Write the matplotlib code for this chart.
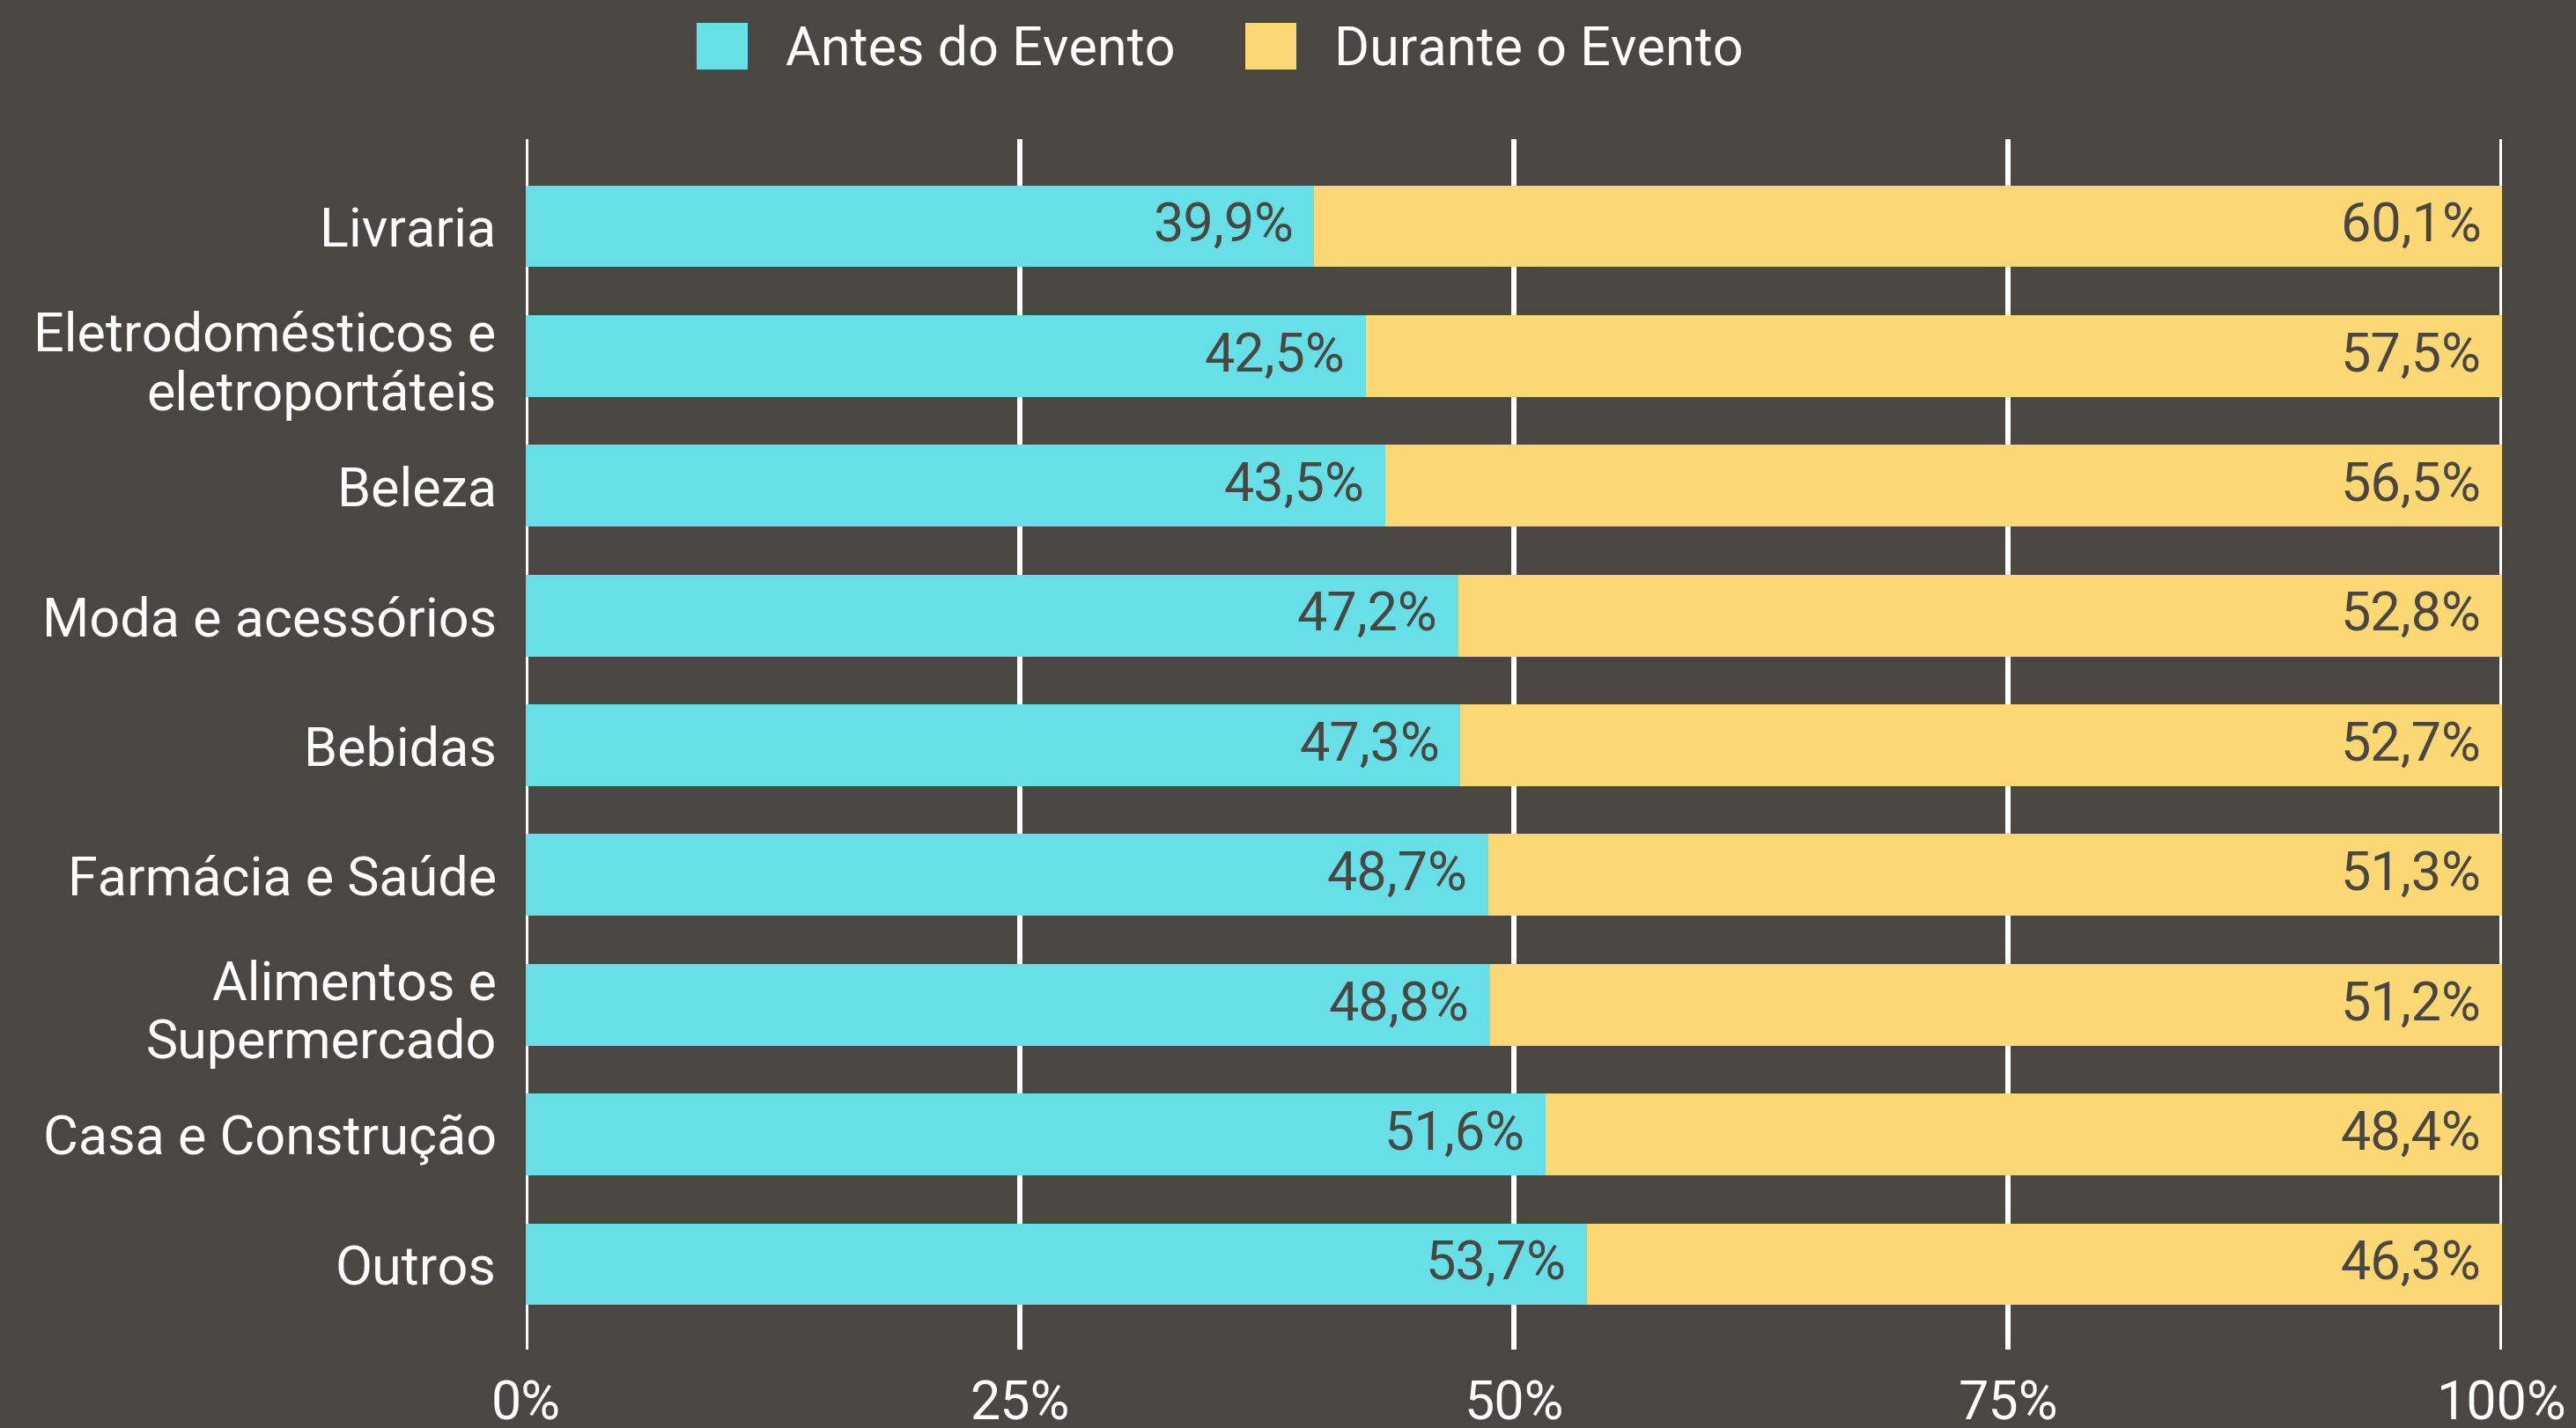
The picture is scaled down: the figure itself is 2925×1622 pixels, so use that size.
import matplotlib
matplotlib.use("Agg")
import matplotlib.pyplot as plt
from matplotlib.patches import Patch
import numpy as np

categories = ["Livraria", "Eletrodomésticos e\neletroportáteis", "Beleza",
              "Moda e acessórios", "Bebidas", "Farmácia e Saúde",
              "Alimentos e\nSupermercado", "Casa e Construção", "Outros"]
antes = [39.9, 42.5, 43.5, 47.2, 47.3, 48.7, 48.8, 51.6, 53.7]
durante = [60.1, 57.5, 56.5, 52.8, 52.7, 51.3, 51.2, 48.4, 46.3]
series_names = ["Antes do Evento", "Durante o Evento"]
xticks = [0, 25, 50, 75, 100]
xticklabels = ["0%", "25%", "50%", "75%", "100%"]

BG = "#4A4742"
CYAN = "#66E0E6"
YELLOW = "#FCD874"
DARK = "#4A4742"

plt.rcParams["font.family"] = ["Roboto", "DejaVu Sans"]

fig = plt.figure(figsize=(29.25, 16.22), dpi=100, facecolor=BG)
ax = fig.add_axes([597/2925, 1 - 1533/1622, (2841-597)/2925, (1533-158)/1622])
ax.set_facecolor(BG)

y = np.arange(len(categories))
h = 0.63
ax.barh(y, antes, height=h, color=CYAN, zorder=3)
ax.barh(y, durante, left=antes, height=h, color=YELLOW, zorder=3)

fs = 44
for i, (a, d) in enumerate(zip(antes, durante)):
    ax.annotate(f"{a:.1f}%".replace(".", ","), xy=(a, i), xytext=(-17, 0),
                textcoords="offset points", ha="right", va="center",
                color=DARK, fontsize=fs, zorder=4)
    ax.annotate(f"{d:.1f}%".replace(".", ","), xy=(a + d, i), xytext=(-17, 0),
                textcoords="offset points", ha="right", va="center",
                color=DARK, fontsize=fs, zorder=4)

ax.set_xlim(0, 100)
ax.set_ylim(8.658, -0.672)
ax.set_yticks(y)
ax.set_yticklabels(categories, fontsize=fs, color="white")
ax.set_xticks(xticks)
ax.set_xticklabels(xticklabels, fontsize=fs, color="white")
ax.tick_params(axis="both", length=0)
ax.tick_params(axis="y", pad=24)
ax.tick_params(axis="x", pad=24)
for s in ax.spines.values():
    s.set_visible(False)
ax.grid(axis="x", color="white", linewidth=4.3, zorder=1)
ax.grid(axis="y", visible=False)
ax.set_axisbelow(True)
for line in ax.get_xgridlines():
    line.set_solid_capstyle("round")

handles = [Patch(facecolor=CYAN, edgecolor="none"), Patch(facecolor=YELLOW, edgecolor="none")]
fig.legend(handles, series_names, loc="center", bbox_to_anchor=(0.4735, 0.9655),
           ncol=2, frameon=False, fontsize=fs, labelcolor="white",
           handlelength=0.95, handleheight=0.95, handletextpad=0.7, columnspacing=1.3)

fig.savefig("out.png", dpi=100, facecolor=BG)
